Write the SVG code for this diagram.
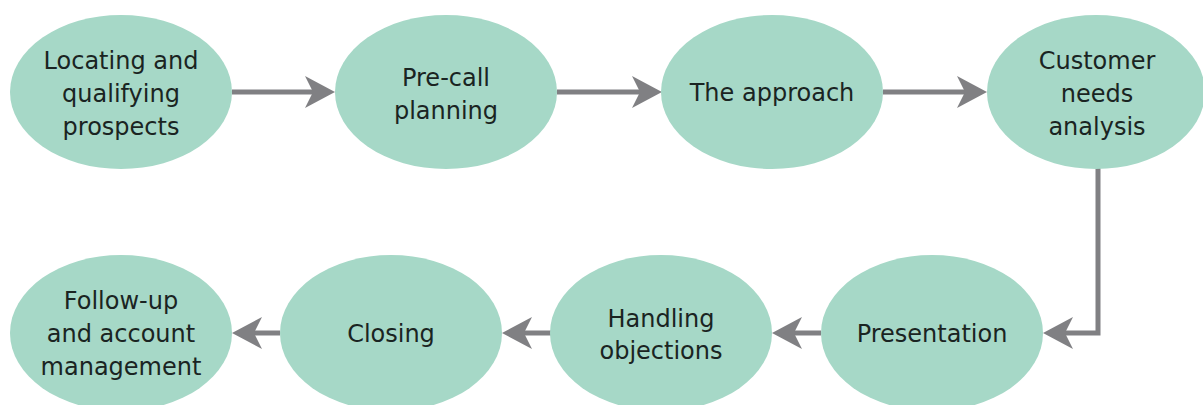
<svg xmlns="http://www.w3.org/2000/svg" width="1203" height="405" viewBox="0 0 1203 405">
<style>
.n ellipse{fill:#a6d8c7}
.n text{font-family:"DejaVu Sans","Liberation Sans",sans-serif;font-size:24px;fill:#1a2422;text-anchor:middle}
.c path{fill:none;stroke:#808083;stroke-width:5}
</style>
<defs>
<marker id="ah" viewBox="0 0 30 32" refX="20" refY="16" markerWidth="30" markerHeight="32" markerUnits="userSpaceOnUse" orient="auto">
<path d="M30,16 L0,0 L8,16 L0,32 Z" fill="#808083"/>
</marker>
</defs>
<rect width="1203" height="405" fill="#ffffff"/>
<g class="c">
<path d="M232,92 L325,92" marker-end="url(#ah)"/>
<path d="M557,92 L652,92" marker-end="url(#ah)"/>
<path d="M883,92 L977,92" marker-end="url(#ah)"/>
<path d="M1098,166 L1098,333 L1053,333" marker-end="url(#ah)"/>
<path d="M821,333 L782,333" marker-end="url(#ah)"/>
<path d="M551,333 L512,333" marker-end="url(#ah)"/>
<path d="M280,333 L242,333" marker-end="url(#ah)"/>
</g>
<g id="n1" class="n"><ellipse cx="121" cy="92" rx="111" ry="77"/><text x="121" y="69">Locating and</text><text x="121" y="102">qualifying</text><text x="121" y="135">prospects</text></g>
<g id="n2" class="n"><ellipse cx="446" cy="92" rx="111" ry="77"/><text x="446" y="86">Pre-call</text><text x="446" y="119">planning</text></g>
<g id="n3" class="n"><ellipse cx="772" cy="92" rx="111" ry="77"/><text x="772" y="101">The approach</text></g>
<g id="n4" class="n"><ellipse cx="1096" cy="92" rx="109" ry="77"/><text x="1097" y="69">Customer</text><text x="1097" y="102">needs</text><text x="1097" y="135">analysis</text></g>
<g id="n5" class="n"><ellipse cx="932" cy="333" rx="111" ry="78"/><text x="932" y="342">Presentation</text></g>
<g id="n6" class="n"><ellipse cx="661" cy="333" rx="111" ry="78"/><text x="661" y="327">Handling</text><text x="661" y="359">objections</text></g>
<g id="n7" class="n"><ellipse cx="391" cy="333" rx="111" ry="78"/><text x="391" y="342">Closing</text></g>
<g id="n8" class="n"><ellipse cx="121" cy="333" rx="111" ry="78"/><text x="121" y="309">Follow-up</text><text x="121" y="342">and account</text><text x="121" y="375">management</text></g>
</svg>
